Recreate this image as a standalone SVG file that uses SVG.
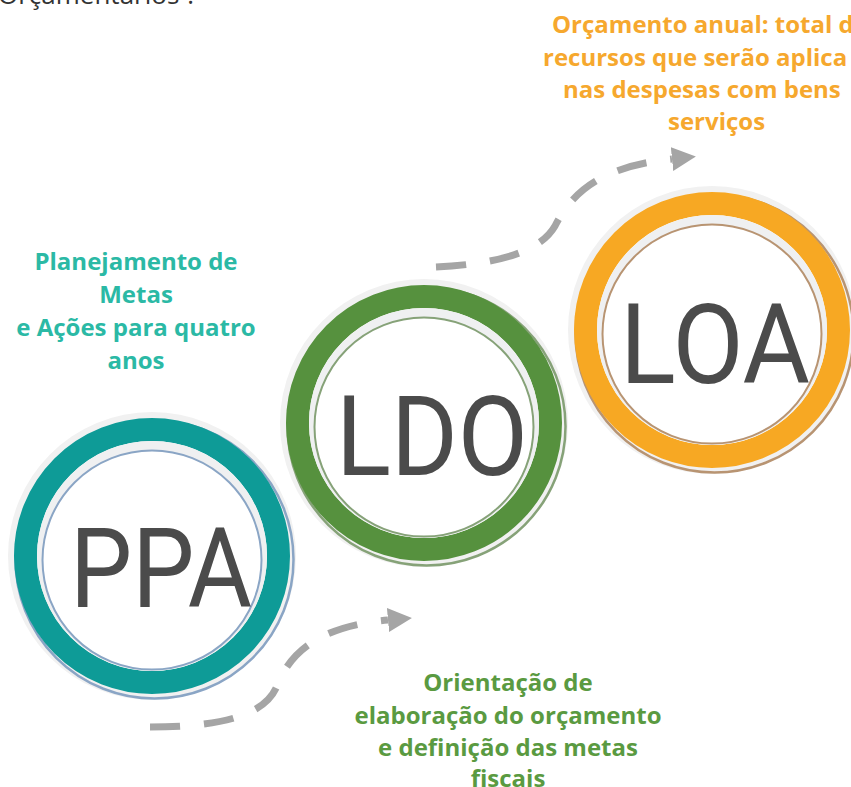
<svg xmlns="http://www.w3.org/2000/svg" width="851" height="787" viewBox="0 0 851 787">
<defs>
<style>
.halo{fill:#f1f1f1}
.shadow{fill:none;stroke-width:2.5}
.ring{fill:#ffffff;stroke-width:23}
.band{fill:#eff0f1}
.inner{fill:#ffffff;stroke-width:2}
.big{font-family:Roboto,"Liberation Sans",sans-serif;font-size:111px;fill:#4b4b4b;text-anchor:middle}
.lbl{font-family:"Open Sans","Noto Sans","Liberation Sans",sans-serif;font-weight:bold;font-size:24px}
.mid{text-anchor:middle}
.dash{fill:none;stroke:#a5a5a5;stroke-width:7;stroke-dasharray:30 24}
</style>
<marker id="ah" markerUnits="userSpaceOnUse" markerWidth="26" markerHeight="24" refX="0" refY="12" orient="auto">
<path d="M0,0 L24,12 L0,24 Z" fill="#a5a5a5"/>
</marker>
</defs>
<rect width="851" height="787" fill="#ffffff"/>

<text x="-2" y="4" font-family="'Open Sans','Noto Sans','Liberation Sans',sans-serif" font-size="26" fill="#333333">Orçamentários ?</text>

<g id="connectors">
<path class="dash" d="M150,727 C228,727 266,713 277,686 C290,652 320,626 388,620" marker-end="url(#ah)"/>
<path class="dash" d="M436,267 C498,264 540,252 555,226 C572,192 602,166 672,159" marker-end="url(#ah)"/>
</g>

<g id="ppa" transform="translate(152,556)">
<circle class="halo" r="144"/>
<circle class="shadow" cx="2.5" cy="3.5" r="139" stroke="#8aa5c5"/>
<circle class="ring" r="126.5" stroke="#0e9b97"/>
<circle class="band" r="115"/>
<circle class="inner" cx="0" cy="4" r="109.5" stroke="#8aa5c5"/>
<text class="big" x="9" y="51" textLength="182" lengthAdjust="spacingAndGlyphs">PPA</text>
</g>

<g id="ldo" transform="translate(424,423)">
<circle class="halo" r="144"/>
<circle class="shadow" cx="2.5" cy="3.5" r="139" stroke="#86a278"/>
<circle class="ring" r="126.5" stroke="#56913e"/>
<circle class="band" r="115"/>
<circle class="inner" cx="0" cy="4" r="109.5" stroke="#86a278"/>
<text class="big" x="8" y="52" textLength="192" lengthAdjust="spacingAndGlyphs">LDO</text>
</g>

<g id="loa" transform="translate(712,330)">
<circle class="halo" r="144"/>
<circle class="shadow" cx="2.5" cy="3.5" r="139" stroke="#b89472"/>
<circle class="ring" r="126.5" stroke="#f7a823"/>
<circle class="band" r="115"/>
<circle class="inner" cx="0" cy="4" r="109.5" stroke="#b89472"/>
<text class="big" x="3" y="53" textLength="190" lengthAdjust="spacingAndGlyphs">LOA</text>
</g>

<g id="label-ppa" class="lbl mid" fill="#2bb9a5">
<text x="136" y="270">Planejamento de</text>
<text x="136" y="303">Metas</text>
<text x="136" y="336">e Ações para quatro</text>
<text x="136" y="369">anos</text>
</g>

<g id="label-ldo" class="lbl mid" fill="#5a9a41">
<text x="508" y="691">Orientação de</text>
<text x="508" y="723.5">elaboração do orçamento</text>
<text x="508" y="756">e definição das metas</text>
<text x="508" y="787">fiscais</text>
</g>

<g id="label-loa" class="lbl" fill="#f6a82e">
<text x="552" y="33">Orçamento anual: total d</text>
<text x="543" y="65.5">recursos que serão aplica</text>
<text x="563" y="98">nas despesas com bens</text>
<text x="668" y="130">serviços</text>
</g>
</svg>
